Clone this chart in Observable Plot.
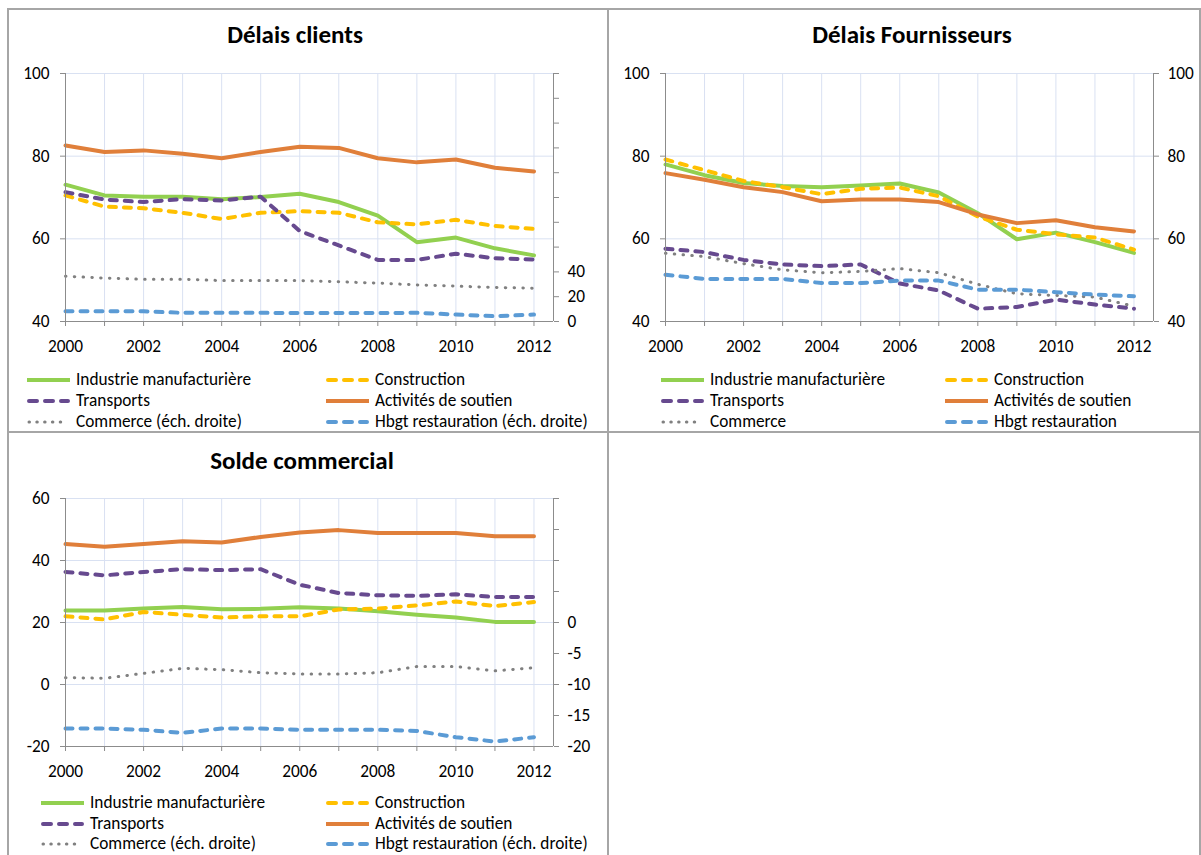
<!DOCTYPE html>
<html><head><meta charset="utf-8">
<script src="https://cdn.jsdelivr.net/npm/d3@7"></script>
<script src="https://cdn.jsdelivr.net/npm/@observablehq/plot@0.6"></script>
<style>
body{margin:0;background:#fff;}
#page{position:relative;width:1201px;height:855px;overflow:hidden;font-family:Carlito,Lato,sans-serif;color:#000;background:#fff;}
.bl{position:absolute;background:#a6a6a6;}
.title{position:absolute;font-weight:bold;font-size:25px;line-height:30px;transform:translateX(-50%);white-space:nowrap;}
.chart{position:absolute;}
.leg{position:absolute;font-size:17.3px;line-height:20px;height:20px;white-space:nowrap;display:flex;align-items:center;}
.leg svg{margin-right:6px;flex:none;}
</style></head><body><div id="page"></div>
<script>
// ---------- data ----------
const years = [2000,2001,2002,2003,2004,2005,2006,2007,2008,2009,2010,2011,2012];

// Délais clients (left scale 40-100; commerce & hbgt on right scale 0-200)
const clientsIndustrie    = [73.1,70.5,70.2,70.2,69.6,70.1,70.9,68.9,65.6,59.2,60.3,57.7,56.0];
const clientsConstruction = [70.5,67.8,67.4,66.3,64.8,66.3,66.7,66.3,64.0,63.5,64.6,63.1,62.4];
const clientsTransports   = [71.3,69.5,68.9,69.6,69.3,70.2,61.9,58.4,54.9,54.9,56.4,55.3,55.0];
const clientsSoutien      = [82.6,81.0,81.4,80.6,79.5,81.0,82.3,82.0,79.5,78.5,79.2,77.2,76.3];
const clientsCommerce     = [36.5,35,34,34,33,33,33,32,31,29.5,28.5,27.5,26.8];
const clientsHbgt         = [8.3,8.3,8.2,7,7,7,6.8,6.8,6.8,7,5.6,4.3,5.6];

// Délais fournisseurs (single scale 40-100)
const fournIndustrie    = [78.0,75.4,73.5,72.8,72.5,72.9,73.4,71.2,66.2,59.9,61.5,59.2,56.6];
const fournConstruction = [79.2,76.6,74.0,72.5,70.8,72.1,72.4,70.3,65.4,62.2,61.1,60.3,57.4];
const fournTransports   = [57.6,56.8,54.9,53.8,53.4,53.8,49.2,47.5,43.1,43.5,45.3,44.1,43.1];
const fournSoutien      = [75.9,74.3,72.5,71.3,69.1,69.5,69.5,68.9,65.9,63.8,64.5,62.8,61.8];
const fournCommerce     = [56.5,55.7,54.0,52.5,51.8,52.1,52.8,51.8,49.0,46.7,46.3,45.9,43.7];
const fournHbgt         = [51.3,50.3,50.3,50.3,49.3,49.3,49.9,49.9,47.7,47.7,47.1,46.5,46.1];

// Solde commercial (left scale -20-60; commerce & hbgt on right scale -20-20)
const soldeIndustrie    = [23.9,23.9,24.5,25.0,24.3,24.4,24.9,24.5,23.6,22.5,21.6,20.2,20.2];
const soldeConstruction = [22.0,21.0,23.4,22.5,21.6,22.0,22.0,24.2,24.5,25.5,26.8,25.3,26.6];
const soldeTransports   = [36.3,35.2,36.3,37.2,36.9,37.2,32.2,29.5,28.8,28.6,29.1,28.2,28.2];
const soldeSoutien      = [45.3,44.4,45.3,46.2,45.8,47.6,49.0,49.8,48.9,48.9,48.9,47.8,47.8];
const soldeCommerce     = [-8.9,-9.0,-8.2,-7.4,-7.6,-8.1,-8.3,-8.3,-8.1,-7.1,-7.1,-7.8,-7.3];
const soldeHbgt         = [-17.1,-17.1,-17.3,-17.8,-17.1,-17.1,-17.3,-17.3,-17.3,-17.5,-18.5,-19.2,-18.5];

// tick labels
const clientsLeftTicks  = [40,60,80,100];
const clientsRightTicks = [0,20,40,60,80,100,120,140,160,180,200];
const clientsRightLabels = [0,20,40];
const fournTicks = [40,60,80,100];
const soldeLeftTicks  = [-20,0,20,40,60];
const soldeRightTicks = [-20,-15,-10,-5,0,5,10,15,20];
const soldeRightLabels = [-20,-15,-10,-5,0];

const names = ["Industrie manufacturière","Construction","Transports","Activités de soutien","Commerce","Hbgt restauration"];
const droite = " (éch. droite)";

// ---------- styles ----------
const styles = [
  {color:"#92d050", dash:null,      w:4,   ldash:null,      lw:4},
  {color:"#ffc000", dash:"7,8",     w:4,   ldash:"8,8",     lw:4},
  {color:"#674a8f", dash:"7,8",     w:4,   ldash:"8,8",     lw:4},
  {color:"#e07f3a", dash:null,      w:4,   ldash:null,      lw:4},
  {color:"#808080", dash:"0.5,8.3", w:3,   ldash:"0.5,7.3", lw:3},
  {color:"#5b9bd5", dash:"7,8",     w:4,   ldash:"8,8",     lw:4}
];
const GRID = "#d9e1f2", AXIS = "#8c8c8c";
const FONT = "17.3px";
const page = document.getElementById("page");

function el(tag, cls, css, text){ const e=document.createElement(tag); if(cls) e.className=cls; Object.assign(e.style, css||{}); if(text!=null) e.textContent=text; page.appendChild(e); return e; }

// borders
[[8,8,1193,2],[8,431,1193,2],[7,8,2,847],[607,8,2,847],[1199,8,2,847]].forEach(([x,y,w,h])=>el("div","bl",{left:x+"px",top:y+"px",width:w+"px",height:h+"px"}));

function panel(cfg){
  const data = cfg.series.map((arr,k)=>years.map((yr,i)=>({year:yr, v: (k>=4 && cfg.toLeft) ? cfg.toLeft(arr[i]) : arr[i], k})));
  const marks = [
    Plot.gridY({ticks: cfg.leftTicks.slice(1), stroke: GRID, strokeOpacity: 1, strokeWidth: 1}),
    Plot.gridX({ticks: years, stroke: GRID, strokeOpacity: 1, strokeWidth: 1}),
    ...data.map((d,k)=>Plot.line(d, {x:"year", y:"v", stroke: styles[k].color, strokeWidth: styles[k].w,
        strokeDasharray: styles[k].dash || undefined, strokeLinecap: "round", strokeLinejoin: "round"})),
    Plot.ruleX([2000], {stroke: AXIS, strokeWidth: 1}),
    Plot.ruleX([2012.5], {stroke: AXIS, strokeWidth: 1}),
    Plot.ruleY([cfg.yDomain[0]], {stroke: AXIS, strokeWidth: 1}),
    Plot.axisX({ticks: years, tickSize: 5, tickPadding: 13, stroke: AXIS, fill: "#000", label: null,
        tickFormat: d => d % 2 === 0 ? String(d) : ""}),
    Plot.axisY({anchor: "left", ticks: cfg.leftTicks, tickSize: 5, tickPadding: 11, stroke: AXIS, fill: "#000", label: null,
        tickFormat: d => String(d)}),
    Plot.axisY({anchor: "right", ticks: cfg.rightTicks.map(cfg.toLeft || (d=>d)), tickSize: 5, tickPadding: 9, stroke: AXIS, fill: "#000", label: null,
        tickFormat: d => { const r = Math.round(cfg.toRight ? cfg.toRight(d) : d); return cfg.rightLabels.includes(r) ? String(r) : ""; }})
  ];
  const svg = Plot.plot({
    width: cfg.width, height: cfg.height,
    marginLeft: cfg.mL, marginRight: cfg.mR, marginTop: cfg.mT, marginBottom: cfg.mB,
    x: {domain: [2000, 2012.5]},
    y: {domain: cfg.yDomain},
    style: {fontSize: FONT, fontFamily: "Carlito, Lato, sans-serif", color: "#000", background: "transparent", overflow: "visible"},
    marks
  });
  const wrap = el("div","chart",{left: cfg.left+"px", top: cfg.top+"px"});
  wrap.appendChild(svg);

  el("div","title",{left: cfg.titleX+"px", top: cfg.titleY+"px"}, cfg.title);

  // legend
  cfg.series.forEach((_,k)=>{
    const col = k % 2, row = Math.floor(k/2);
    const x = col === 0 ? cfg.legX[0] : cfg.legX[1];
    const y = cfg.legY[row] - 10;
    const item = el("div","leg",{left: x+"px", top: y+"px"});
    const s = styles[k];
    const ns = "http://www.w3.org/2000/svg";
    const sw = document.createElementNS(ns,"svg"); sw.setAttribute("width", 43); sw.setAttribute("height", 10);
    const ln = document.createElementNS(ns,"line");
    ln.setAttribute("x1", s.ldash ? 2 : 0); ln.setAttribute("x2", s.ldash ? 41 : 43); ln.setAttribute("y1", 5); ln.setAttribute("y2", 5);
    ln.setAttribute("stroke", s.color); ln.setAttribute("stroke-width", s.lw);
    if (s.ldash) { ln.setAttribute("stroke-dasharray", s.ldash); ln.setAttribute("stroke-linecap","round"); }
    sw.appendChild(ln); item.appendChild(sw);
    const t = document.createElement("span"); t.textContent = names[k] + ((k>=4 && cfg.droite) ? droite : ""); item.appendChild(t);
  });
}

panel({title: "Délais clients", titleX: 295, titleY: 20,
  left: 0, top: 50, width: 608, height: 311, mL: 65, mR: 55, mT: 23, mB: 40,
  yDomain: [40, 100], leftTicks: clientsLeftTicks, rightTicks: clientsRightTicks, rightLabels: clientsRightLabels,
  toLeft: r => 40 + r * 0.3, toRight: l => (l - 40) / 0.3, droite: true,
  series: [clientsIndustrie, clientsConstruction, clientsTransports, clientsSoutien, clientsCommerce, clientsHbgt],
  legX: [27, 326], legY: [380, 401, 422]});

panel({title: "Délais Fournisseurs", titleX: 912, titleY: 20,
  left: 608, top: 50, width: 593, height: 311, mL: 57, mR: 48, mT: 23, mB: 40,
  yDomain: [40, 100], leftTicks: fournTicks, rightTicks: fournTicks, rightLabels: fournTicks,
  toLeft: null, toRight: null, droite: false,
  series: [fournIndustrie, fournConstruction, fournTransports, fournSoutien, fournCommerce, fournHbgt],
  legX: [661, 945], legY: [380, 401, 422]});

panel({title: "Solde commercial", titleX: 302, titleY: 446,
  left: 0, top: 475, width: 608, height: 311, mL: 65, mR: 55, mT: 23, mB: 40,
  yDomain: [-20, 60], leftTicks: soldeLeftTicks, rightTicks: soldeRightTicks, rightLabels: soldeRightLabels,
  toLeft: r => 20 + r * 2, toRight: l => (l - 20) / 2, droite: true,
  series: [soldeIndustrie, soldeConstruction, soldeTransports, soldeSoutien, soldeCommerce, soldeHbgt],
  legX: [41, 326], legY: [803, 824, 844]});
</script></body></html>
